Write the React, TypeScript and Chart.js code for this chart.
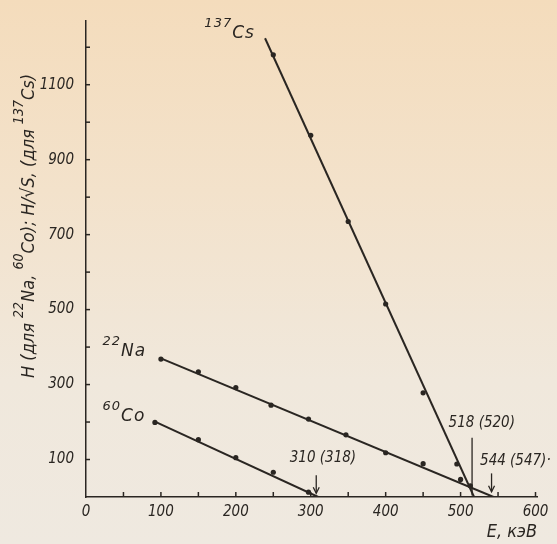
import React, { useEffect, useRef } from 'react';
import { Chart, registerables } from 'chart.js';

Chart.register(...registerables);

// ---- data (E in keV, H) ----
const csPointsE = [250, 300, 350, 400, 450, 495, 513];
const csPointsH = [1180, 965, 735, 515, 278, 88, 30];
const naPointsE = [100, 150, 200, 247, 297, 347, 400, 450, 500];
const naPointsH = [368, 334, 292, 245, 208, 166, 118, 89, 47];
const coPointsE = [92, 150, 200, 250, 297];
const coPointsH = [199, 153, 105, 66, 13];

const csLineE = [239, 518];
const csLineH = [1224, 0];
const naLineE = [100, 544];
const naLineH = [370, 0];
const coLineE = [92, 310];
const coLineH = [201, 0];

const xTickValues = [0, 50, 100, 150, 200, 250, 300, 350, 400, 450, 500, 550, 600];
const xTickLabels = ['0', '', '100', '', '200', '', '300', '', '400', '', '500', '', '600'];
const yTickValues = [0, 100, 200, 300, 400, 500, 600, 700, 800, 900, 1000, 1100, 1200];
const yTickLabels = ['', '100', '', '300', '', '500', '', '700', '', '900', '', '1100', ''];

const cutoffE = [310, 518, 544];
const cutoffLabels = ['310 (318)', '518 (520)', '544 (547)·'];
const seriesMass = ['137', '22', '60'];
const seriesSymbol = ['Cs', 'Na', 'Co'];
// y-axis title: [text, isSuperscript]
const yTitleParts: [string, boolean][] = [
  ['H (для ', false],
  ['22', true],
  ['Na, ', false],
  ['60', true],
  ['Co); H/√S, (для ', false],
  ['137', true],
  ['Cs)', false],
];
const xTitle = 'E, кэВ';

const ink = '#2a2622';
const family = "'DejaVu Sans Condensed', 'Liberation Sans Narrow', 'DejaVu Sans', sans-serif";
const wideFamily = "'DejaVu Sans', sans-serif";

const pts = (xs: number[], ys: number[]) => xs.map((x, i) => ({ x, y: ys[i] }));

const richWidth = (ctx: any, parts: [string, boolean][], size: number, fam: string) => {
  let w = 0;
  for (const [t, sup] of parts) {
    ctx.font = `italic ${sup ? Math.round(size * 0.75) : size}px ${fam}`;
    w += ctx.measureText(t).width;
  }
  return w;
};
const drawRich = (
  ctx: any,
  parts: [string, boolean][],
  x: number,
  y: number,
  size: number,
  fam: string,
  rise: number
) => {
  let cx = x;
  for (const [t, sup] of parts) {
    ctx.font = `italic ${sup ? Math.round(size * 0.75) : size}px ${fam}`;
    ctx.fillText(t, cx, sup ? y - size * rise : y);
    cx += ctx.measureText(t).width;
  }
};

const decor = {
  id: 'decor',
  afterDatasetsDraw(chart: any) {
    const { ctx } = chart;
    const xs = chart.scales.x;
    const ys = chart.scales.y;
    const X = (v: number) => xs.getPixelForValue(v);
    const Y = (v: number) => ys.getPixelForValue(v);
    ctx.save();
    ctx.strokeStyle = ink;
    ctx.fillStyle = ink;
    ctx.lineWidth = 1.5;
    // inward ticks
    xTickValues.forEach((v) => {
      if (v > 0) {
        const px = X(v);
        ctx.beginPath();
        ctx.moveTo(px, Y(0));
        ctx.lineTo(px, Y(0) - 5);
        ctx.stroke();
      }
    });
    yTickValues.forEach((v) => {
      if (v > 0) {
        const py = Y(v);
        ctx.beginPath();
        ctx.moveTo(X(0), py);
        ctx.lineTo(X(0) + 4, py);
        ctx.stroke();
      }
    });

    // cutoff markers
    ctx.lineWidth = 1.3;
    const arrow = (e: number, h1: number, h2: number, head: boolean) => {
      const px = X(e) - 2;
      ctx.beginPath();
      ctx.moveTo(px, Y(h1));
      ctx.lineTo(px, Y(h2));
      ctx.stroke();
      if (head) {
        ctx.beginPath();
        ctx.moveTo(px - 3, Y(h2) - 6);
        ctx.lineTo(px, Y(h2));
        ctx.lineTo(px + 3, Y(h2) - 6);
        ctx.stroke();
      }
    };
    arrow(cutoffE[0], 58, 10, true);
    arrow(cutoffE[1], 158, 4, false);
    arrow(cutoffE[2], 63, 14, true);

    ctx.font = `italic 15px ${family}`;
    ctx.textBaseline = 'middle';
    ctx.textAlign = 'left';
    ctx.fillText(cutoffLabels[0], X(272), Y(103));
    ctx.fillText(cutoffLabels[1], X(484), Y(197));
    ctx.fillText(cutoffLabels[2], X(526), Y(97));

    // series labels
    const anchors = [
      [158, 1236],
      [22, 387],
      [22, 215],
    ];
    (ctx as any).letterSpacing = '1px';
    anchors.forEach(([e, h], i) => {
      drawRich(ctx, [[seriesMass[i], true], [seriesSymbol[i], false]], X(e), Y(h), 17, wideFamily, 0.58);
    });
    (ctx as any).letterSpacing = '0px';

    // y title
    ctx.translate(28, 226);
    ctx.rotate(-Math.PI / 2);
    const tw = richWidth(ctx, yTitleParts, 18, family);
    drawRich(ctx, yTitleParts, -tw / 2, 1, 18, family, 0.55);
    ctx.restore();
  },
};

export default function App() {
  const ref = useRef<HTMLCanvasElement>(null);
  useEffect(() => {
    if (!ref.current) return;
    const lineDs = (d: any) => ({
      data: d,
      showLine: true,
      borderColor: ink,
      borderWidth: 2,
      pointRadius: 0,
      fill: false,
    });
    const ptDs = (d: any) => ({
      data: d,
      showLine: false,
      pointRadius: 2.6,
      pointBackgroundColor: ink,
      pointBorderColor: ink,
      pointBorderWidth: 0,
    });
    const tickFont = { family, size: 15, style: 'italic' as const };
    const chart = new Chart(ref.current, {
      type: 'scatter',
      data: {
        datasets: [
          lineDs(pts(csLineE, csLineH)),
          lineDs(pts(naLineE, naLineH)),
          lineDs(pts(coLineE, coLineH)),
          ptDs(pts(csPointsE, csPointsH)),
          ptDs(pts(naPointsE, naPointsH)),
          ptDs(pts(coPointsE, coPointsH)),
        ],
      },
      options: {
        responsive: false,
        animation: false,
        layout: { padding: { left: 0, top: 15, right: 20, bottom: 0 } },
        plugins: { legend: { display: false }, tooltip: { enabled: false } },
        scales: {
          x: {
            type: 'linear',
            min: 0,
            max: 602,
            grid: { display: false, drawTicks: false },
            border: { display: true, color: ink, width: 1.5 },
            afterBuildTicks: (s: any) => {
              s.ticks = xTickValues.map((value) => ({ value }));
            },
            ticks: {
              autoSkip: false,
              maxRotation: 0,
              minRotation: 0,
              padding: 6,
              color: ink,
              font: tickFont,
              callback: (v: any) => {
                const i = xTickValues.indexOf(Number(v));
                return i >= 0 ? xTickLabels[i] : '';
              },
            },
            title: {
              display: true,
              text: xTitle,
              align: 'end',
              color: ink,
              font: { family, size: 18, style: 'italic' },
              padding: { top: 0, bottom: 1 },
            },
            afterFit: (s: any) => {
              s.height = 47;
            },
          },
          y: {
            type: 'linear',
            min: 0,
            max: 1270,
            grid: { display: false, drawTicks: false },
            border: { display: true, color: ink, width: 1.5 },
            afterBuildTicks: (s: any) => {
              s.ticks = yTickValues.map((value) => ({ value }));
            },
            ticks: {
              autoSkip: false,
              padding: 12,
              color: ink,
              font: tickFont,
              callback: (v: any) => {
                const i = yTickValues.indexOf(Number(v));
                return i >= 0 ? yTickLabels[i] : '';
              },
            },
            afterFit: (s: any) => {
              s.width = 86;
            },
          },
        },
      },
      plugins: [decor],
    });
    return () => chart.destroy();
  }, []);

  return (
    <div
      style={{
        position: 'fixed',
        left: 0,
        top: 0,
        width: 557,
        height: 544,
        background: 'linear-gradient(180deg, #f4dcbc 0%, #f3e2cb 35%, #f0e8dc 70%, #efe9e0 100%)',
      }}
    >
      <canvas ref={ref} width={557} height={544} style={{ display: 'block' }} />
    </div>
  );
}
